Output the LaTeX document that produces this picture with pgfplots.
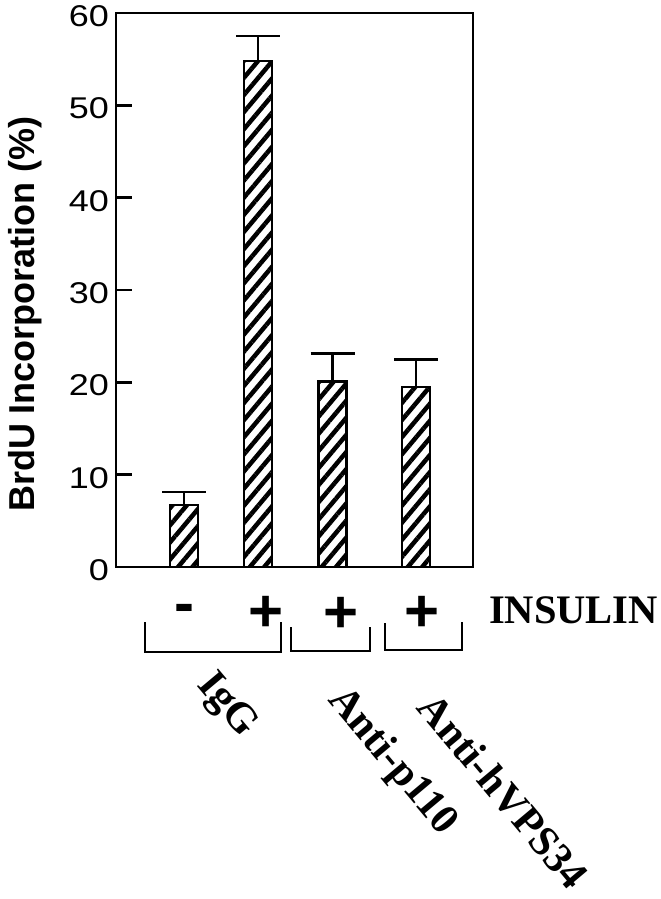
\documentclass[border=0pt]{standalone}
\usepackage{pgfplots}
\pgfplotsset{compat=1.18}
\usetikzlibrary{patterns.meta}
\usepackage{fontspec}
\setmainfont{Liberation Serif}
\newfontfamily\tickfont[FakeStretch=1.2]{Liberation Sans}
\newfontfamily\labfont{Liberation Sans}
\begin{document}
\begin{tikzpicture}
\useasboundingbox (0,0) rectangle (661bp,-899bp);
\begin{axis}[
  at={(116bp,-567bp)}, anchor=south west,
  scale only axis, width=357bp, height=554bp,
  xmin=116, xmax=473, ymin=0, ymax=60,
  axis line style={line width=2.5bp},
  xtick=\empty,
  ytick={0,10,...,60}, yticklabels={0,10,20,30,40,50,60},
  tick align=inside, ytick pos=left, major tick length=16bp,
  major tick style={line width=2.5bp, black},
  yticklabel style={font=\fontsize{30bp}{30bp}\tickfont, anchor=east, inner sep=0pt, xshift=-7bp, yshift=-3bp},
  ylabel={BrdU Incorporation (\%)},
  ylabel style={font=\fontsize{36bp}{36bp}\labfont\bfseries, at={(axis description cs:-0.2269,0.4567)}, anchor=base, inner sep=0pt},
  clip=false,
]
\addplot[ybar, bar width=28, draw=black, line width=2.5bp,
  pattern={Lines[angle=50,distance=11bp,line width=4.5bp]},
  error bars/.cd, y dir=plus, y explicit,
  error bar style={line width=2.5bp, black},
  error mark options={rotate=90, mark size=22bp, line width=2.5bp, black}]
  coordinates {(184,6.7) +- (0,1.4) (258,54.8) +- (0,2.7) (332.5,20.1) +- (0,3.0) (416,19.5) +- (0,3.0)};
\end{axis}
\begin{scope}[x=1bp,y=-1bp]
\draw[line width=2.5bp] (145,622) -- (145,652) -- (281,652) -- (281,622);
\draw[line width=2.5bp] (291,627) -- (291,651) -- (370,651) -- (370,627);
\draw[line width=2.5bp] (385,623) -- (385,650) -- (462,650) -- (462,622);
\node[font=\fontsize{60bp}{60bp}\labfont\bfseries, anchor=base, inner sep=0pt] at (184.5,623) {-};
\node[font=\fontsize{60bp}{60bp}\labfont\bfseries, anchor=base, inner sep=0pt] at (266,631) {+};
\node[font=\fontsize{60bp}{60bp}\labfont\bfseries, anchor=base, inner sep=0pt] at (341,632) {+};
\node[font=\fontsize{60bp}{60bp}\labfont\bfseries, anchor=base, inner sep=0pt] at (422,631) {+};
\node[font=\fontsize{40.5bp}{40.5bp}\selectfont\bfseries, anchor=base west, inner sep=0pt] at (489,623) {INSULIN};
\node[font=\fontsize{42bp}{42bp}\selectfont\bfseries, rotate=-50, inner sep=0pt] at (226.5,706) {IgG};
\node[font=\fontsize{42bp}{42bp}\selectfont\bfseries, rotate=-50, inner sep=0pt] at (392,762) {Anti-p110};
\node[font=\fontsize{42bp}{42bp}\selectfont\bfseries, rotate=-50, inner sep=0pt] at (503,791) {Anti-hVPS34};
\end{scope}
\end{tikzpicture}
\end{document}
